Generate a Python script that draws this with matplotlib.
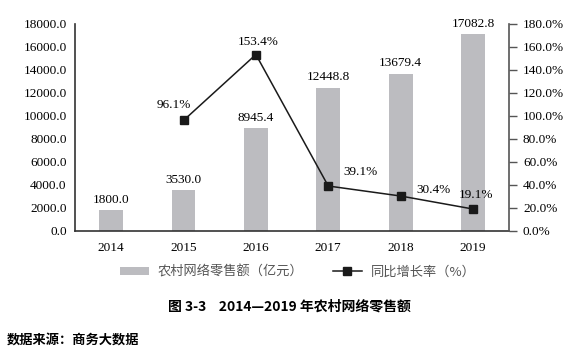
import numpy as np
import matplotlib.pyplot as plt

years = ["2014", "2015", "2016", "2017", "2018", "2019"]
sales = [1800.0, 3530.0, 8945.4, 12448.8, 13679.4, 17082.8]
growth_years = ["2015", "2016", "2017", "2018", "2019"]
growth = [96.1, 153.4, 39.1, 30.4, 19.1]

serif = "Liberation Serif"
cjk = ["Noto Sans CJK SC", "DejaVu Sans"]

fig = plt.figure(figsize=(5.78, 3.57), dpi=100)
ax = fig.add_axes([0.1298, 0.353, 0.751, 0.580])
ax2 = ax.twinx()

x = np.arange(len(years))
ax.bar(x, sales, width=0.33, color="#bcbcc0", zorder=2,
       label="农村网络零售额（亿元）")
ax.set_xlim(-0.5, len(years) - 0.5)
ax.set_ylim(0, 18000)
ax.set_yticks(np.arange(0, 18001, 2000))
ax.set_yticklabels([f"{v:.1f}" for v in np.arange(0, 18001, 2000)],
                   fontfamily=serif, fontsize=9.5)
ax.set_xticks(x)
ax.set_xticklabels(years, fontfamily=serif, fontsize=9.5)
ax.tick_params(axis="y", length=0, pad=6)
ax.tick_params(axis="x", length=0, pad=8)
for s in ["top", "right"]:
    ax.spines[s].set_visible(False)
for s in ["left", "bottom"]:
    ax.spines[s].set_color("#333333")
    ax.spines[s].set_linewidth(1.2)

# bar value labels, ~10px above the bar top
for xi, v in zip(x, sales):
    ax.annotate(f"{v:.1f}", (xi, v), xytext=(0, 7.5), textcoords="offset points",
                ha="center", va="center", fontfamily=serif, fontsize=9.5)

gx = [years.index(y) for y in growth_years]
ax2.plot(gx, growth, color="#1a1a1a", lw=1.1, marker="s", ms=5.3,
         zorder=3, label="同比增长率（%）")
ax2.set_ylim(0, 180)
ax2.set_yticks(np.arange(0, 181, 20))
ax2.set_yticklabels([f"{v:.1f}%" for v in np.arange(0, 181, 20)],
                    fontfamily=serif, fontsize=9.5)
ax2.tick_params(axis="y", length=6, width=1, color="#555555", pad=4)
for s in ["top", "left", "bottom"]:
    ax2.spines[s].set_visible(False)
ax2.spines["right"].set_color("#555555")
ax2.spines["right"].set_linewidth(1.2)

# growth labels, offsets in pixels (right, up)
offsets = [(-10, 15), (2, 13), (32, 14), (33, 6), (3, 14)]
for (xi, g), (dx, dy) in zip(zip(gx, growth), offsets):
    ax2.annotate(f"{g:.1f}%", (xi, g), xytext=(dx * 0.72, dy * 0.72),
                 textcoords="offset points", ha="center", va="center",
                 fontfamily=serif, fontsize=9.5)

h1, l1 = ax.get_legend_handles_labels()
h2, l2 = ax2.get_legend_handles_labels()
fig.legend(h1 + h2, l1 + l2, loc="center", bbox_to_anchor=(0.515, 0.238),
           ncol=2, frameon=False, prop={"family": cjk, "size": 9.5},
           handlelength=2.2, handleheight=0.55, handletextpad=0.7,
           columnspacing=2.2, labelcolor="#555555")

fig.text(0.5, 0.14, "图 3-3    2014—2019 年农村网络零售额", ha="center",
         va="center", fontsize=10, fontweight="bold", family=cjk)
fig.text(0.012, 0.048, "数据来源：商务大数据", ha="left", va="center",
         fontsize=9.5, fontweight="bold", family=cjk)

fig.savefig("out.png", dpi=100)
